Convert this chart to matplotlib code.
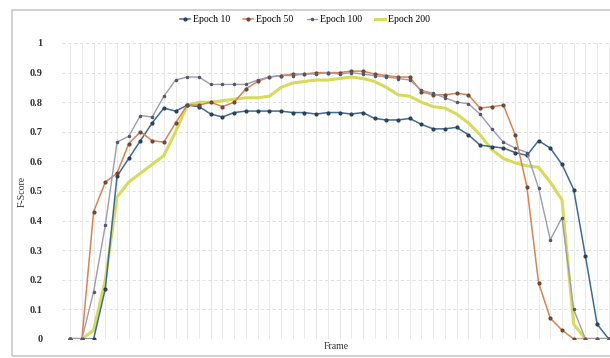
import numpy as np
import matplotlib
matplotlib.use('Agg')
import matplotlib.pyplot as plt
from matplotlib.patches import Rectangle

# F-score per frame for each training epoch
frames = list(range(47))
epoch_10 = [0, 0, 0, 0.17, 0.55, 0.61, 0.67, 0.73, 0.78, 0.77,
            0.79, 0.785, 0.76, 0.75, 0.765, 0.77, 0.77, 0.77, 0.77, 0.765,
            0.765, 0.76, 0.765, 0.765, 0.76, 0.765, 0.745, 0.74, 0.74, 0.745,
            0.725, 0.71, 0.71, 0.715, 0.69, 0.655, 0.65, 0.645, 0.63, 0.62,
            0.67, 0.645, 0.59, 0.505, 0.28, 0.05, 0.0]
epoch_50 = [0, 0, 0.43, 0.53, 0.56, 0.66, 0.70, 0.67, 0.665, 0.73,
            0.79, 0.79, 0.80, 0.785, 0.80, 0.845, 0.87, 0.885, 0.89, 0.895,
            0.895, 0.90, 0.90, 0.90, 0.905, 0.905, 0.895, 0.89, 0.885, 0.885,
            0.835, 0.825, 0.825, 0.83, 0.825, 0.78, 0.785, 0.79, 0.69, 0.515,
            0.19, 0.07, 0.03, 0, 0, 0, 0]
epoch_100 = [0, 0, 0.16, 0.385, 0.665, 0.685, 0.755, 0.75, 0.82, 0.875,
             0.885, 0.885, 0.86, 0.86, 0.86, 0.86, 0.875, 0.885, 0.89, 0.89,
             0.895, 0.895, 0.90, 0.895, 0.90, 0.895, 0.89, 0.885, 0.88, 0.875,
             0.84, 0.83, 0.815, 0.80, 0.795, 0.76, 0.71, 0.665, 0.645, 0.63,
             0.51, 0.335, 0.41, 0.1, 0, 0, 0]
epoch_200 = [0, 0, 0.03, 0.2, 0.48, 0.53, 0.56, 0.59, 0.62, 0.70,
             0.79, 0.80, 0.80, 0.805, 0.81, 0.815, 0.815, 0.82, 0.85, 0.865,
             0.87, 0.875, 0.875, 0.88, 0.885, 0.88, 0.87, 0.85, 0.825, 0.82,
             0.80, 0.785, 0.78, 0.76, 0.73, 0.69, 0.64, 0.61, 0.595, 0.585,
             0.58, 0.53, 0.47, 0.05, 0, 0, 0]

plt.rcParams['font.family'] = ['Liberation Serif', 'DejaVu Serif']

fig = plt.figure(figsize=(6.1, 3.58), dpi=100)
ax = fig.add_axes([62 / 610, 19 / 358, 548 / 610, 296 / 358])

ax.plot(frames, epoch_200, color='#d6dc5a', linewidth=2.2, label='Epoch 200', zorder=2)
ax.plot(frames, epoch_10, color='#3f6b9c', linewidth=1.1, marker='o', markersize=2.0,
        markerfacecolor='#2f3f55', markeredgecolor='#2f3f55', label='Epoch 10', zorder=3)
ax.plot(frames, epoch_50, color='#d9844f', linewidth=1.1, marker='o', markersize=2.0,
        markerfacecolor='#6a4a3a', markeredgecolor='#6a4a3a', label='Epoch 50', zorder=3)
ax.plot(frames, epoch_100, color='#9c9cb4', linewidth=1.0, marker='o', markersize=1.5,
        markerfacecolor='#555566', markeredgecolor='#555566', label='Epoch 100', zorder=3)

ax.set_xlim(-0.7, 46.1)
ax.set_ylim(0, 1)
ax.set_yticks(np.arange(0, 1.01, 0.1))
ax.set_yticklabels(['0', '0.1', '0.2', '0.3', '0.4', '0.5', '0.6', '0.7', '0.8', '0.9', '1'],
                   fontsize=7.5, color='#333333', fontweight='bold')
ax.set_xticks(frames)
ax.set_xticklabels([])
ax.tick_params(length=0)
ax.tick_params(axis='y', pad=14)
ax.tick_params(axis='x', pad=0)
ax.grid(axis='x', color='#e6e6e6', linewidth=0.6)
ax.grid(axis='y', color='#dcdcdc', linewidth=0.6, linestyle=(0, (4, 3)))
ax.set_axisbelow(True)
for s in ax.spines.values():
    s.set_visible(False)

ax.set_ylabel('F-Score', fontsize=7, color='#333333', labelpad=2)
ax.set_xlabel('Frame', fontsize=7, color='#333333', labelpad=2)

handles, labels = ax.get_legend_handles_labels()
order = [1, 2, 3, 0]
leg = fig.legend([handles[i] for i in order], [labels[i] for i in order],
                 loc='center', bbox_to_anchor=(0.5, 1 - 20 / 358), ncol=4, frameon=False,
                 fontsize=7, handlelength=1.0, handletextpad=0.3, columnspacing=1.4,
                 bbox_transform=fig.transFigure)

# chart border
fig.patches.append(Rectangle((12 / 610, 2 / 358), 620 / 610, 346 / 358,
                             transform=fig.transFigure, fill=False,
                             edgecolor='#c8c8c8', linewidth=1.2))

fig.savefig('out.png', dpi=100)
